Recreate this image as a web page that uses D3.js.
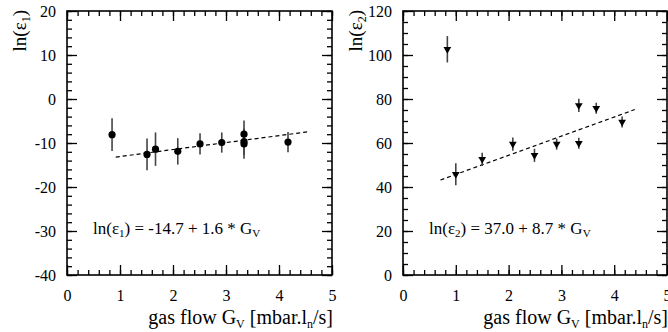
<!DOCTYPE html>
<html><head><meta charset="utf-8">
<script src="https://cdn.jsdelivr.net/npm/d3@7"></script>
<style>
body{margin:0;background:#fff;}
svg text{font-family:"Liberation Serif","Times New Roman",serif !important;fill:#000;}
</style></head><body>
<svg id="c" width="668" height="332"></svg>
<script>
// Panel 1: ln(eps1) vs gas flow
const gas1 = [0.85, 1.51, 1.67, 2.09, 2.51, 2.92, 3.34, 3.34, 3.34, 4.17];
const eps1 = [-8.1, -12.6, -11.4, -11.9, -10.2, -9.9, -8.0, -9.7, -10.2, -9.8];
const err1 = [3.7, 3.6, 3.8, 3.0, 2.4, 2.3, 3.1, 3.0, 3.4, 2.3];
const fitX1 = [0.92, 4.58];
const fitY1 = [-13.2, -7.4];
// Panel 2: ln(eps2) vs gas flow
const gas2 = [0.84, 1.00, 1.50, 2.08, 2.49, 2.91, 3.33, 3.33, 3.66, 4.15];
const eps2 = [102.6, 45.8, 52.6, 59.5, 54.4, 59.5, 77.1, 59.9, 75.8, 69.5];
const err2 = [6, 5, 3, 3, 3, 2.5, 3, 2.5, 2.5, 2.5];
const fitX2 = [0.71, 4.39];
const fitY2 = [43.2, 75.2];
// ticks
const xTicks = [0, 1, 2, 3, 4, 5];
const yTicks1 = [-40, -30, -20, -10, 0, 10, 20];
const yTicks2 = [0, 20, 40, 60, 80, 100, 120];

const svg = d3.select("#c");
const SERIF = '"Liberation Serif","Times New Roman",serif';

function panel(o) {
  const x = d3.scaleLinear().domain([0, 5]).range([o.left, o.right]);
  const y = d3.scaleLinear().domain(o.yDom).range([275, 11]);
  const g = svg.append("g");
  const xMinor = d3.range(0, 5.0001, 0.2).map(v => +v.toFixed(2));
  const yMinor = d3.range(o.yDom[0], o.yDom[1] + 0.001, o.yMinorStep);
  const fmt = d => String(d);

  // minor ticks
  g.append("g").attr("transform", `translate(0,275)`).call(d3.axisBottom(x).tickValues(xMinor).tickSize(-5).tickFormat(""));
  g.append("g").attr("transform", `translate(0,11)`).call(d3.axisTop(x).tickValues(xMinor).tickSize(-5).tickFormat(""));
  g.append("g").attr("transform", `translate(${o.left},0)`).call(d3.axisLeft(y).tickValues(yMinor).tickSize(-5).tickFormat(""));
  g.append("g").attr("transform", `translate(${o.right},0)`).call(d3.axisRight(y).tickValues(yMinor).tickSize(-5).tickFormat(""));
  // major ticks with labels
  g.append("g").attr("class", "lab").attr("transform", `translate(0,275)`).call(d3.axisBottom(x).tickValues(xTicks).tickSize(-10).tickPadding(15).tickFormat(fmt));
  g.append("g").attr("transform", `translate(0,11)`).call(d3.axisTop(x).tickValues(xTicks).tickSize(-10).tickFormat(""));
  g.append("g").attr("class", "lab").attr("transform", `translate(${o.left},0)`).call(d3.axisLeft(y).tickValues(o.yTicks).tickSize(-10).tickPadding(11).tickFormat(fmt));
  g.append("g").attr("transform", `translate(${o.right},0)`).call(d3.axisRight(y).tickValues(o.yTicks).tickSize(-10).tickFormat(""));
  g.selectAll(".domain").remove();
  g.selectAll("g").attr("font-family", SERIF);
  g.selectAll(".tick line").attr("stroke", "#000").attr("stroke-width", 1.3);
  g.selectAll(".lab text").attr("font-size", 16).style("font-family", SERIF);

  // frame
  g.append("rect").attr("x", o.left).attr("y", 11).attr("width", o.right - o.left).attr("height", 264)
    .attr("fill", "none").attr("stroke", "#000").attr("stroke-width", 1.6);

  // fit line
  g.append("line").attr("x1", x(o.fitX[0])).attr("y1", y(o.fitY[0])).attr("x2", x(o.fitX[1])).attr("y2", y(o.fitY[1]))
    .attr("stroke", "#000").attr("stroke-width", 1.2).attr("stroke-dasharray", "4,3");

  // error bars
  const idx = d3.range(o.gx.length);
  g.selectAll(".eb").data(idx).enter().append("line")
    .attr("x1", i => x(o.gx[i])).attr("x2", i => x(o.gx[i]))
    .attr("y1", i => y(o.gy[i] - o.ge[i])).attr("y2", i => y(o.gy[i] + o.ge[i]))
    .attr("stroke", "#444").attr("stroke-width", 1.6);

  // markers
  if (o.marker === "circle") {
    g.selectAll(".pt").data(idx).enter().append("circle")
      .attr("cx", i => x(o.gx[i])).attr("cy", i => y(o.gy[i])).attr("r", 3.6).attr("fill", "#000");
  } else {
    const tri = d3.symbol().type(d3.symbolTriangle).size(26);
    g.selectAll(".pt").data(idx).enter().append("path")
      .attr("d", tri).attr("fill", "#000")
      .attr("transform", i => `translate(${x(o.gx[i])},${y(o.gy[i])}) rotate(180)`);
  }

  // y label (rotated)
  const yl = g.append("text").attr("transform", `translate(${o.left - 41},10) rotate(-90)`)
    .attr("text-anchor", "end").attr("font-size", 19).style("font-family", SERIF);
  yl.append("tspan").text("ln(ε");
  yl.append("tspan").attr("font-size", 12).attr("dy", 4).text(o.sub);
  yl.append("tspan").attr("dy", -4).text(")");

  // x label
  const xl = g.append("text").attr("x", o.right + 1).attr("y", 324).attr("text-anchor", "end").attr("font-size", 20).style("font-family", SERIF);
  xl.append("tspan").text("gas flow G");
  xl.append("tspan").attr("font-size", 12).attr("dy", 4).text("V");
  xl.append("tspan").attr("dy", -4).text(" [mbar.l");
  xl.append("tspan").attr("font-size", 12).attr("dy", 4).text("n");
  xl.append("tspan").attr("dy", -4).text("/s]");

  // formula
  const fl = g.append("text").attr("x", o.left + 26).attr("y", 234).attr("font-size", 17).style("font-family", SERIF);
  fl.append("tspan").text("ln(ε");
  fl.append("tspan").attr("font-size", 11).attr("dy", 3).text(o.sub);
  fl.append("tspan").attr("dy", -3).text(o.formula);
  fl.append("tspan").attr("font-size", 11).attr("dy", 3).text("V");
}

panel({left: 67, right: 332, yDom: [-40, 20], yTicks: yTicks1, yMinorStep: 2,
  gx: gas1, gy: eps1, ge: err1, fitX: fitX1, fitY: fitY1, marker: "circle", sub: "1",
  formula: ") = -14.7 + 1.6 * G"});
panel({left: 403, right: 667, yDom: [0, 120], yTicks: yTicks2, yMinorStep: 5,
  gx: gas2, gy: eps2, ge: err2, fitX: fitX2, fitY: fitY2, marker: "tri", sub: "2",
  formula: ") = 37.0 + 8.7 * G"});
</script></body></html>
